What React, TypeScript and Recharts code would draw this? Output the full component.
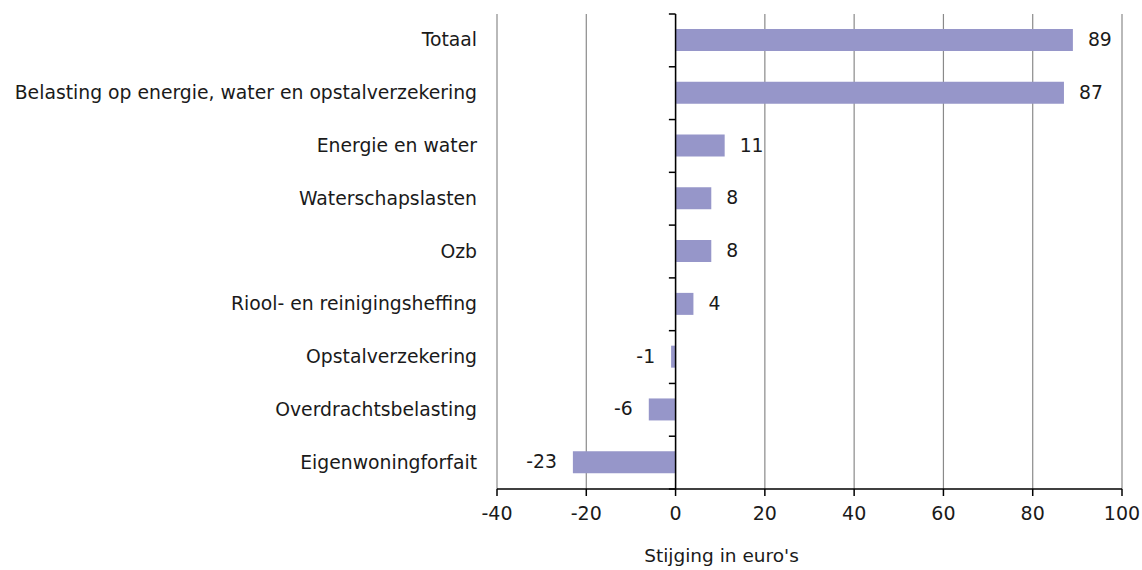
import React from 'react';
import { BarChart, Bar, XAxis, YAxis, CartesianGrid, ReferenceLine, LabelList } from 'recharts';

const categories = [
  'Totaal',
  'Belasting op energie, water en opstalverzekering',
  'Energie en water',
  'Waterschapslasten',
  'Ozb',
  'Riool- en reinigingsheffing',
  'Opstalverzekering',
  'Overdrachtsbelasting',
  'Eigenwoningforfait',
];
const values = [89, 87, 11, 8, 8, 4, -1, -6, -23];
const xTicks = [-40, -20, 0, 20, 40, 60, 80, 100];

const data = categories.map((c, i) => ({ name: c, value: values[i] }));

const FONT = '"DejaVu Sans", sans-serif';

const YTick = (props: any) => {
  const { x, y, payload } = props;
  return (
    <text x={x - 12} y={y} dy={6} textAnchor="end" fontSize={18.8} fill="#1a1a1a" fontFamily={FONT}>
      {payload.value}
    </text>
  );
};

const XTick = (props: any) => {
  const { x, y, payload } = props;
  return (
    <text x={x} y={y} dy={22} textAnchor="middle" fontSize={19} fill="#1a1a1a" fontFamily={FONT}>
      {payload.value}
    </text>
  );
};

const ValueLabel = (props: any) => {
  const { x, y, width, height, value } = props;
  const neg = value < 0;
  const tx = neg ? x + width - 16 : x + width + 15;
  return (
    <text x={tx} y={y + height / 2} dy={6} textAnchor={neg ? 'end' : 'start'} fontSize={18.8} fill="#1a1a1a" fontFamily={FONT}>
      {value}
    </text>
  );
};

export default function App() {
  const last = categories[categories.length - 1];
  return (
    <div style={{ position: 'absolute', left: 0, top: 0, width: 1142, height: 570, background: '#fff' }}>
      <BarChart
        width={1142}
        height={570}
        data={data}
        layout="vertical"
        margin={{ top: 14, right: 20, bottom: 0, left: 0 }}
        barSize={22}
      >
        <CartesianGrid horizontal={false} stroke="#8a8a8a" strokeWidth={1.2} verticalValues={xTicks} />
        <XAxis
          type="number"
          domain={[-40, 100]}
          ticks={xTicks}
          tick={<XTick />}
          axisLine={{ stroke: '#000', strokeWidth: 1.5 }}
          tickLine={{ stroke: '#000', strokeWidth: 1.5 }}
          tickSize={7}
          height={81}
          label={{ value: "Stijging in euro's", position: 'insideBottom', offset: 8, dx: -88, fontSize: 18.5, fill: '#1a1a1a', fontFamily: FONT }}
        />
        <YAxis
          type="category"
          dataKey="name"
          width={497}
          axisLine={false}
          tickLine={false}
          tick={<YTick />}
          interval={0}
        />
        <ReferenceLine x={0} stroke="#000" strokeWidth={1.5} />
        {categories.map((c) => (
          <ReferenceLine
            key={c}
            position="start"
            segment={[{ x: -1.5, y: c }, { x: 0, y: c }]}
            stroke="#000"
            strokeWidth={1.5}
          />
        ))}
        <ReferenceLine
          position="end"
          segment={[{ x: -1.5, y: last }, { x: 0, y: last }]}
          stroke="#000"
          strokeWidth={1.5}
        />
        <Bar dataKey="value" fill="#9696c9" isAnimationActive={false}>
          <LabelList dataKey="value" content={<ValueLabel />} />
        </Bar>
      </BarChart>
    </div>
  );
}
